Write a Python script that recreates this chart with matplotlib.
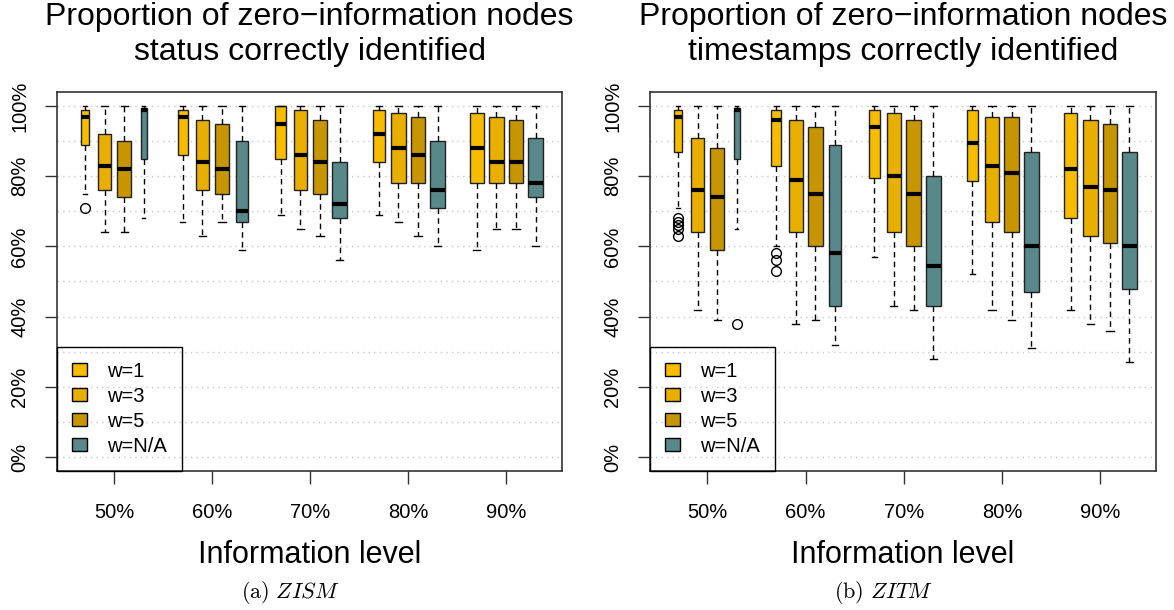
import numpy as np
import matplotlib.pyplot as plt
from matplotlib.patches import Patch

plt.rcParams['font.family'] = ['Liberation Sans', 'DejaVu Sans']
plt.rcParams['mathtext.fontset'] = 'cm'

# ------------ DATA (in %) ------------

levels = ["50%", "60%", "70%", "80%", "90%"]
series = ["w=1", "w=3", "w=5", "w=N/A"]

# rows = information level, cols = series (w=1, w=3, w=5, w=N/A)
zism_lo  = [[75, 64, 64, 68], [67, 63, 67, 59], [69, 65, 63, 56], [69, 67, 63, 60], [59, 65, 65, 60]]
zism_q1  = [[89, 76, 74, 85], [86, 76, 75, 67], [85, 76, 75, 68], [84, 78, 78, 71], [78, 78, 78, 74]]
zism_med = [[97, 83, 82, 99], [97, 84, 82, 70], [95, 86, 84, 72], [92, 88, 86, 76], [88, 84, 84, 78]]
zism_q3  = [[99, 92, 90, 99.5], [99, 96, 95, 90], [100, 99, 96, 84], [99, 98, 97, 90], [98, 97, 96, 91]]
zism_hi  = [[100, 100, 100, 100]] * 5
zism_out = {(0, 0): [71]}

zitm_lo  = [[71, 42, 39, 65], [60, 38, 39, 32], [57, 43, 42, 28], [52, 42, 39, 31], [42, 38, 36, 27]]
zitm_q1  = [[87, 64, 59, 85], [83, 64, 60, 43], [79.5, 64, 60, 43], [78.5, 67, 64, 47], [68, 63, 61, 48]]
zitm_med = [[97, 76, 74, 99], [96, 79, 75, 58], [94, 80, 75, 54.5], [89.5, 83, 81, 60], [82, 77, 76, 60]]
zitm_q3  = [[99, 91, 88, 99.5], [99, 96, 94, 89], [99, 98, 96, 80], [99, 97, 97, 87], [98, 96, 95, 87]]
zitm_hi  = [[100, 100, 100, 100]] * 5
zitm_out = {(0, 0): [68, 67, 66, 65, 63], (0, 3): [38], (1, 0): [58, 56, 53]}

# relative box widths (varwidth), in units of group spacing
box_widths = [[0.08, 0.13, 0.14, 0.06], [0.10, 0.14, 0.15, 0.12], [0.11, 0.14, 0.15, 0.15],
              [0.12, 0.15, 0.15, 0.15], [0.14, 0.15, 0.15, 0.15]]

COLORS = ["#F7BC00", "#E8AE00", "#C69500", "#588889"]
OFFSETS = [-0.3, -0.1, 0.1, 0.3]


def make_stats(lo, q1, med, q3, hi, out):
    stats, pos, wid = [], [], []
    for g in range(len(levels)):
        for s in range(len(series)):
            stats.append(dict(whislo=lo[g][s], q1=q1[g][s], med=med[g][s], q3=q3[g][s],
                              whishi=hi[g][s], fliers=np.array(out.get((g, s), []))))
            pos.append(g + OFFSETS[s])
            wid.append(box_widths[g][s])
    return stats, pos, wid


def draw_panel(ax, stats, pos, wid, title2, caption, cx):
    ax.set_axisbelow(True)
    ax.set_yticks(range(0, 101, 10), minor=True)
    ax.grid(axis='y', which='both', color='#c8c8c8', linestyle=(0, (1, 3)), lw=1)

    bp = ax.bxp(stats, positions=pos, widths=wid, capwidths=[w * 0.5 for w in wid],
                patch_artist=True, manage_ticks=False,
                boxprops=dict(edgecolor='#222222', lw=1),
                medianprops=dict(color='black', lw=3, solid_capstyle='butt'),
                whiskerprops=dict(color='black', lw=1, linestyle=(0, (4, 3))),
                capprops=dict(color='black', lw=1),
                flierprops=dict(marker='o', markerfacecolor='none', markeredgecolor='black',
                                markersize=7, mew=1))
    for i, box in enumerate(bp['boxes']):
        box.set_facecolor(COLORS[i % 4])

    ax.set_xlim(-0.585, 4.57)
    ax.set_ylim(-4, 104)
    ax.set_xticks(range(len(levels)))
    ax.set_xticklabels(levels)
    ax.set_yticks(range(0, 101, 20))
    ax.set_yticklabels([f"{v}%" for v in range(0, 101, 20)], rotation=90, va='center')
    ax.tick_params(axis='both', which='major', length=9, width=1, color='#333333',
                   labelsize=14.5)
    ax.tick_params(axis='x', pad=14)
    ax.tick_params(axis='y', pad=11)
    ax.tick_params(which='minor', length=0)
    for sp in ax.spines.values():
        sp.set_color('#333333')
        sp.set_linewidth(1.2)

    ax.set_xlabel("Information level", fontsize=22)
    ax.xaxis.set_label_coords(0.5, -0.2216)
    ax.xaxis.label.set_va('center')

    handles = [Patch(facecolor=c, edgecolor='black', lw=1) for c in COLORS]
    leg = ax.legend(handles, series, loc='lower left', bbox_to_anchor=(0, 0),
                    borderaxespad=0, fontsize=14.5, fancybox=False, framealpha=1,
                    facecolor='none', edgecolor='black', borderpad=0.75,
                    handlelength=0.75, handleheight=0.6, handletextpad=1.0,
                    labelspacing=0.3)
    leg.get_frame().set_linewidth(1)

    fig = ax.figure
    fig.text(cx, 1 - 25 / 610, "Proportion of zero\u2212information nodes",
             ha='center', va='baseline', fontsize=23)
    fig.text(cx, 1 - 60 / 610, title2, ha='center', va='baseline', fontsize=23)
    fig.text(caption[1], 1 - 593 / 610, caption[0], ha='center', va='center', fontsize=16)


fig = plt.figure(figsize=(11.74, 6.10), dpi=100)
ax1 = fig.add_axes([57 / 1174, 139 / 610, 505 / 1174, 379 / 610])
ax2 = fig.add_axes([650 / 1174, 139 / 610, 506 / 1174, 379 / 610])

s1, p1, w1 = make_stats(zism_lo, zism_q1, zism_med, zism_q3, zism_hi, zism_out)
s2, p2, w2 = make_stats(zitm_lo, zitm_q1, zitm_med, zitm_q3, zitm_hi, zitm_out)

draw_panel(ax1, s1, p1, w1, "status correctly identified",
           (r"$\mathrm{(a)}\ ZISM$", 290 / 1174), 309.5 / 1174)
draw_panel(ax2, s2, p2, w2, "timestamps correctly identified",
           (r"$\mathrm{(b)}\ ZITM$", 884 / 1174), 903 / 1174)

fig.savefig("out.png", dpi=100)
